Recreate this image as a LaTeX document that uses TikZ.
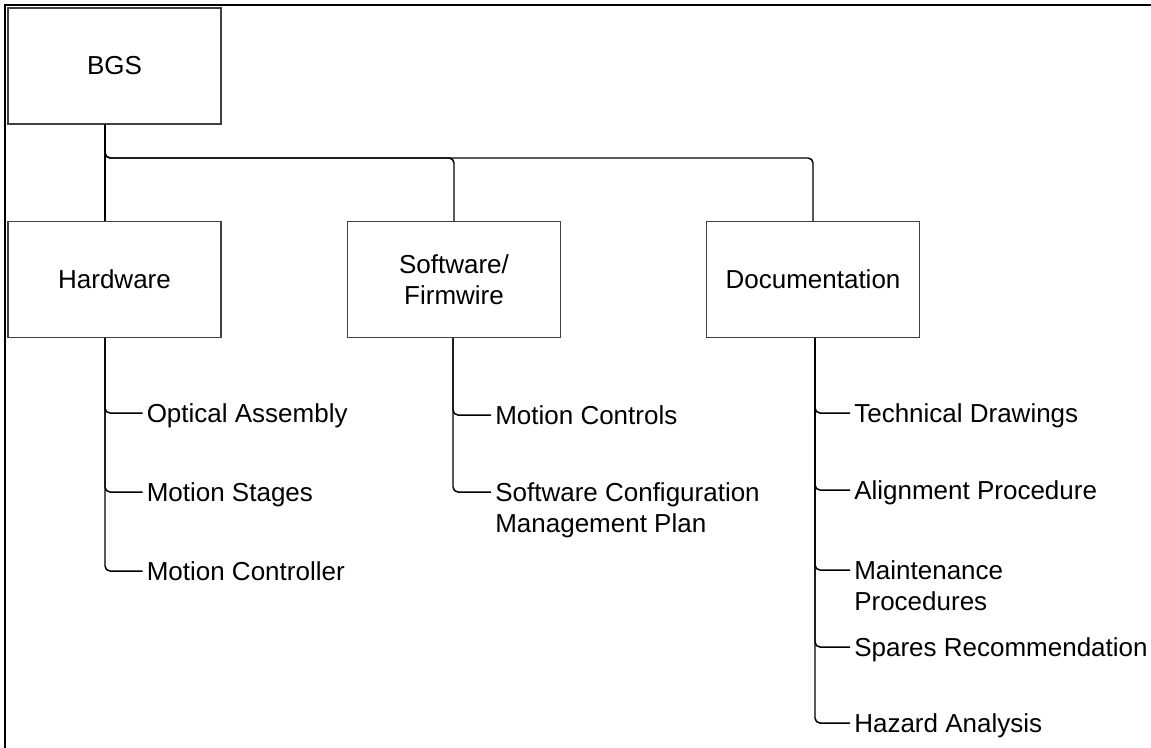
\documentclass[tikz,border=0pt]{standalone}
\usepackage{fontspec}
\setmainfont{Liberation Sans}
\tikzset{
  box/.style={draw=black!75, line width=0.8pt, minimum width=159.75pt, minimum height=87pt, align=center, inner sep=0pt},
  item/.style={anchor=north west, align=left, inner xsep=3pt, inner ysep=0pt},
  link/.style={draw=black, line width=1.1pt, rounded corners=3.75pt}
}
\begin{document}
\begin{tikzpicture}[x=0.75pt, y=-0.75pt, font=\fontsize{19.5}{23.25}\selectfont]
    \useasboundingbox (0,0) rectangle (1151,748);
    \draw[line width=2pt] (1151,5) -- (5,5) -- (5,748);
    % top level and branches
    \node[box] (bgs) at (114.5,66) {BGS};
    \node[box] (hw) at (114.5,279.5) {Hardware};
    \node[box] (sw) at (454,279.5) {Software/\\Firmwire};
    \node[box] (doc) at (813,279.5) {Documentation};
    \coordinate (bus) at (0,158);
    \draw[link] (bgs.south) ++(-9.5,0) -- ([xshift=-7.125pt]hw.north);
    \draw[link] (bgs.south) ++(-9.5,0) |- (sw.north |- bus) -- (sw.north);
    \draw[link] (bgs.south) ++(-9.5,0) |- (doc.north |- bus) -- (doc.north);
    % leaves
    \foreach \name/\y/\txt in {oa/413/{Optical Assembly}, ms/492/{Motion Stages}, mc/571/{Motion Controller}} {
      \node[item] (\name) at (142.5,\y-9.3) {\txt};
      \draw[link] ([xshift=-7.125pt]hw.south) |- ([yshift=-7pt]\name.north west);
    }
    \foreach \name/\y/\txt in {mcs/415/{Motion Controls}, scm/492/{Software Configuration\\Management Plan}} {
      \node[item] (\name) at (491,\y-9.3) {\txt};
      \draw[link] ([xshift=-0.75pt]sw.south) |- ([yshift=-7pt]\name.north west);
    }
    \foreach \name/\y/\txt in {td/413/{Technical Drawings}, ap/490/{Alignment Procedure}, mp/570/{Maintenance\\Procedures}, sr/647/{Spares Recommendation}, ha/723/{Hazard Analysis}} {
      \node[item] (\name) at (850,\y-9.3) {\txt};
      \draw[link] ([xshift=1.5pt]doc.south) |- ([yshift=-7pt]\name.north west);
    }
\end{tikzpicture}
\end{document}
